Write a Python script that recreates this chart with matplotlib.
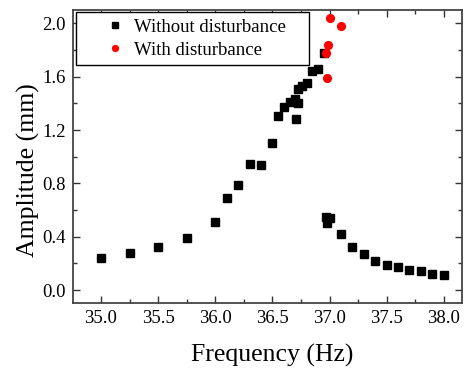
import matplotlib
matplotlib.use("Agg")
import matplotlib.pyplot as plt
from matplotlib.ticker import MultipleLocator

plt.rcParams['font.family'] = ['Liberation Serif', 'DejaVu Serif']

freq_without = [35.0, 35.25, 35.5, 35.75, 36.0, 36.1, 36.2, 36.3, 36.4, 36.5,
                36.55, 36.6, 36.65, 36.7, 36.72, 36.71, 36.72, 36.76, 36.8, 36.85,
                36.9, 36.95, 36.97, 37.0, 36.98, 37.1, 37.2, 37.3, 37.4, 37.5,
                37.6, 37.7, 37.8, 37.9, 38.0]
amp_without = [0.24, 0.275, 0.32, 0.39, 0.51, 0.69, 0.79, 0.945, 0.94, 1.105,
               1.305, 1.375, 1.41, 1.43, 1.405, 1.285, 1.51, 1.53, 1.55, 1.64,
               1.655, 1.775, 0.55, 0.54, 0.50, 0.42, 0.32, 0.27, 0.22, 0.19,
               0.17, 0.15, 0.14, 0.12, 0.11]

freq_with = [37.0, 37.1, 36.99, 36.97, 36.98]
amp_with = [2.04, 1.98, 1.84, 1.78, 1.59]

x_ticks = [35.0, 35.5, 36.0, 36.5, 37.0, 37.5, 38.0]
y_ticks = [0.0, 0.4, 0.8, 1.2, 1.6, 2.0]

fig = plt.figure(figsize=(4.71, 3.71), dpi=100)
ax = fig.add_axes([0.155, 0.182, 0.826, 0.791])

ax.plot(freq_without, amp_without, linestyle='none', marker='s', markersize=5.3,
        color='black', label='Without disturbance')
ax.plot(freq_with, amp_with, linestyle='none', marker='o', markersize=5.6,
        color='red', markeredgecolor='red', label='With disturbance')

ax.set_xlim(34.755, 38.16)
ax.set_ylim(-0.1, 2.1)
ax.set_xticks(x_ticks)
ax.set_yticks(y_ticks)
ax.set_xticklabels([f"{v:.1f}" for v in x_ticks])
ax.set_yticklabels([f"{v:.1f}" for v in y_ticks])
ax.xaxis.set_minor_locator(MultipleLocator(0.25))
ax.yaxis.set_minor_locator(MultipleLocator(0.2))
ax.tick_params(which='both', direction='in', top=True, right=True,
               color='#333333', width=1.0, labelsize=13.5)
ax.tick_params(which='major', length=5, pad=5)
ax.tick_params(which='minor', length=3)
for s in ax.spines.values():
    s.set_linewidth(1.3)
    s.set_color('#444444')

ax.set_xlabel('Frequency (Hz)', fontsize=18.5, labelpad=12)
ax.set_ylabel('Amplitude (mm)', fontsize=18.5, labelpad=2)
ax.xaxis.label.set_x(0.512)
ax.yaxis.label.set_y(0.455)

leg = ax.legend(loc='upper left', bbox_to_anchor=(0.0077, 0.0, 0.599, 0.993),
                mode='expand', fontsize=13.5, markerscale=0.75,
                frameon=True, fancybox=False, edgecolor='black', framealpha=1,
                handletextpad=-0.72, borderpad=0.35, labelspacing=0.3,
                handlelength=3.47, borderaxespad=0)
leg.get_frame().set_linewidth(1.0)

fig.savefig('out.png', dpi=100)
